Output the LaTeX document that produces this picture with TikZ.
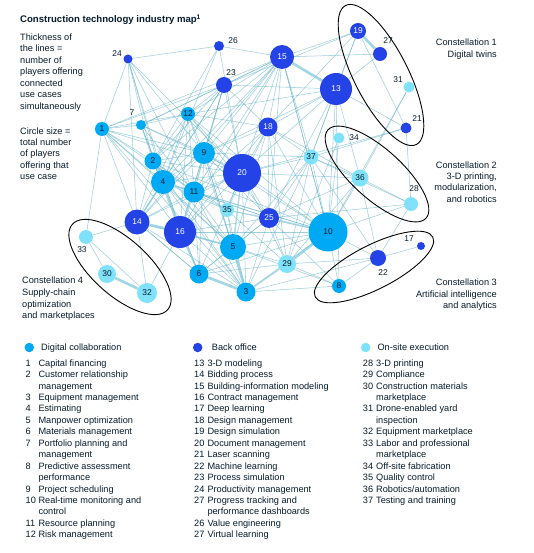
\documentclass[tikz,border=0pt]{standalone}
\usepackage{fontspec}
\setmainfont{Liberation Sans}
\pgfdeclarelayer{bg}
\pgfsetlayers{bg,main}
\definecolor{navy}{HTML}{051C2C}
\definecolor{dcol}{HTML}{00A9F4}
\definecolor{bcol}{HTML}{2443E6}
\definecolor{ocol}{HTML}{80E1FA}
\definecolor{lcol}{RGB}{95,175,198}
\definecolor{tcol}{RGB}{140,205,222}
\tikzset{
  nd/.style={circle, inner sep=0pt, font=\fontsize{8.4}{8.4}\selectfont},
  dc/.style={nd, fill=dcol, text=navy},
  bo/.style={nd, fill=bcol, text=white},
  os/.style={nd, fill=ocol, text=navy},
  lbl/.style={inner sep=0pt, text=navy, font=\fontsize{8.4}{8.4}\selectfont},
  txt/.style={inner sep=0pt, anchor=base west, text=navy, font=\fontsize{9.2}{10}\selectfont},
  rtxt/.style={txt, anchor=base east},
  lnk/.style={draw=lcol, line width=0.55pt, opacity=0.6},
  mlnk/.style={draw=tcol, line width=1.4pt, opacity=0.75},
  tlnk/.style={draw=tcol, line width=2.7pt, opacity=0.8},
  constel/.style={draw=black, line width=0.9pt},
}
\begin{document}
\begin{tikzpicture}[x=1pt,y=-1pt]
\useasboundingbox (0,0) rectangle (533,553);

% ---------- nodes ----------
\node[dc, minimum size=14pt] (n1) at (102,129) {1};
\node[dc, minimum size=17pt] (n2) at (153,161) {2};
\node[dc, minimum size=19pt] (n3) at (246,292) {3};
\node[dc, minimum size=24pt] (n4) at (163,182) {4};
\node[dc, minimum size=26pt] (n5) at (233,247) {5};
\node[dc, minimum size=19pt] (n6) at (199,274) {6};
\node[dc, minimum size=10pt] (n7) at (141,125) {};
\node[dc, minimum size=14pt] (n8) at (339,286) {8};
\node[dc, minimum size=22pt] (n9) at (204,153) {9};
\node[dc, minimum size=39pt] (n10) at (328,232) {10};
\node[dc, minimum size=21pt] (n11) at (194,192) {11};
\node[dc, minimum size=14pt] (n12) at (188,114) {12};
\node[bo, minimum size=32pt] (n13) at (336,89) {13};
\node[bo, minimum size=25pt] (n14) at (137,222) {14};
\node[bo, minimum size=24pt] (n15) at (282,57) {15};
\node[bo, minimum size=32pt] (n16) at (180,232) {16};
\node[bo, minimum size=8pt] (n17) at (421,246) {};
\node[bo, minimum size=19pt] (n18) at (268,127) {18};
\node[bo, minimum size=16pt] (n19) at (358,31) {19};
\node[bo, minimum size=38pt] (n20) at (242,173) {20};
\node[bo, minimum size=11pt] (n21) at (406,128) {};
\node[bo, minimum size=16pt] (n22) at (378,258) {};
\node[bo, minimum size=16pt] (n23) at (224,85) {};
\node[bo, minimum size=9pt] (n24) at (128,59) {};
\node[bo, minimum size=20pt] (n25) at (269,218) {25};
\node[bo, minimum size=10pt] (n26) at (219,46) {};
\node[bo, minimum size=14pt] (n27) at (380,54) {};
\node[os, minimum size=14pt] (n28) at (411,204) {};
\node[os, minimum size=18pt] (n29) at (287,264) {29};
\node[os, minimum size=18pt] (n30) at (107,274) {30};
\node[os, minimum size=11pt] (n31) at (409,87) {};
\node[os, minimum size=20pt] (n32) at (147,293) {32};
\node[os, minimum size=14pt] (n33) at (86,237) {};
\node[os, minimum size=11pt] (n34) at (339,138) {};
\node[os, minimum size=14pt] (n35) at (227,210) {35};
\node[os, minimum size=17pt] (n36) at (360,178) {36};
\node[os, minimum size=15pt] (n37) at (311,157) {37};

% external labels
\node[lbl] (l7) at (132,113) {7};
\node[lbl] (l17) at (409,239) {17};
\node[lbl] (l21) at (417,119) {21};
\node[lbl] (l22) at (383,273) {22};
\node[lbl] (l23) at (231,73) {23};
\node[lbl] (l24) at (117,54) {24};
\node[lbl] (l26) at (233,41) {26};
\node[lbl] (l27) at (388,41) {27};
\node[lbl] (l28) at (414,189) {28};
\node[lbl] (l31) at (398,80) {31};
\node[lbl] (l33) at (82,250) {33};
\node[lbl] (l34) at (354,138) {34};

% ---------- connectors ----------
\begin{pgfonlayer}{bg}
\foreach \a/\b in {1/7,1/12,1/2,1/4,1/14,1/11,1/9,1/16,1/24,1/3,1/5,1/20,1/23,
 2/4,2/9,2/11,2/12,2/14,2/16,2/20,2/5,2/3,2/6,2/7,2/24,2/26,2/15,2/23,2/10,2/35,
 3/16,3/10,3/8,3/20,3/11,3/14,3/4,3/25,3/22,3/35,3/9,3/37,
 4/9,4/12,4/14,4/20,4/5,4/6,4/7,4/15,4/23,4/24,4/26,4/10,4/25,4/35,
 5/6,5/9,5/10,5/11,5/16,5/25,5/29,5/35,5/37,5/14,5/12,5/18,5/8,
 6/11,6/14,6/20,6/9,6/25,6/10,6/29,
 7/12,7/4,7/11,7/23,7/15,7/9,7/20,
 8/10,8/22,8/29,8/25,8/13,
 9/11,9/12,9/16,9/18,9/23,9/15,9/25,9/10,9/37,9/35,9/14,9/20,
 10/13,10/15,10/18,10/20,10/22,10/36,10/28,10/31,10/37,10/11,10/16,10/35,10/12,10/34,
 11/12,11/20,11/14,11/23,11/15,11/18,11/25,11/35,
 12/23,12/15,12/20,12/16,12/18,12/25,12/14,
 13/19,13/21,13/18,13/20,13/37,13/36,13/25,13/9,13/12,13/23,13/27,
 14/20,14/23,14/15,14/33,14/32,14/24,14/6,
 15/19,15/27,15/18,15/20,15/23,15/26,15/25,15/37,15/16,15/1,15/10,
 16/20,16/23,16/25,16/32,16/18,
 17/22,
 18/20,18/37,18/19,18/25,18/29,18/23,18/35,18/36,
 19/21,19/37,19/23,
 20/25,20/37,20/29,20/35,20/36,20/23,20/26,20/24,20/21,
 21/28,21/37,
 22/36,22/37,22/29,22/28,
 24/26,24/9,24/11,24/16,
 25/37,25/29,25/28,25/36,25/35,
 28/36,28/37,29/37,29/35,29/36,
 30/33,32/33,31/36,34/29,36/37,33/1}
  \draw[lnk] (n\a) -- (n\b);
\foreach \a/\b in {4/11,4/16,11/16,16/6,3/29,16/5,20/5,25/10,14/4}
  \draw[mlnk] (n\a) -- (n\b);
\foreach \a/\b in {13/15,19/27,30/32,14/16,3/6,3/5,10/29}
  \draw[tlnk] (n\a) -- (n\b);
\end{pgfonlayer}

% ---------- constellations ----------
\draw[constel, shift={(381,75)}, rotate=-63] (0,0) ellipse [x radius=78pt, y radius=27pt];
\draw[constel, shift={(377,174)}, rotate=-42] (0,0) ellipse [x radius=66pt, y radius=25pt];
\draw[constel, shift={(374,267)}, rotate=27] (0,0) ellipse [x radius=66pt, y radius=22pt];
\draw[constel, shift={(120,267)}, rotate=-42] (0,0) ellipse [x radius=64pt, y radius=28pt];

\node[rtxt] (c1a) at (497,45.9) {Constellation 1};
\node[rtxt] (c1b) at (497,57.5) {Digital twins};
\foreach \t [count=\i] in {Constellation 2, {3-D printing,}, {modularization,}, and robotics}
  \node[rtxt] (c2\i) at (497,168.2+11.4*\i-11.4) {\t};
\foreach \t [count=\i] in {Constellation 3, Artificial intelligence, and analytics}
  \node[rtxt] (c3\i) at (497,285.9+11.5*\i-11.5) {\t};
\foreach \t [count=\i] in {Constellation 4, Supply-chain, optimization, and marketplaces}
  \node[txt] (c4\i) at (22,283.2+11.9*\i-11.9) {\t};

% ---------- title and side notes ----------
\node[txt, font=\bfseries\fontsize{9.6}{10}\selectfont] (title) at (20,22.8) {Construction technology industry map\textsuperscript{1}};
\foreach \t [count=\i] in {Thickness of, the lines =, number of, players offering, connected, use cases, simultaneously}
  \node[txt] (th\i) at (20,40.1+11.55*\i-11.55) {\t};
\foreach \t [count=\i] in {Circle size =, total number, of players, offering that, use case}
  \node[txt] (cs\i) at (20,134.1+11.35*\i-11.35) {\t};

% ---------- legend ----------
\node[circle, fill=dcol, minimum size=9.5pt, inner sep=0pt] (b1) at (29.3,347.5) {};
\node[txt] (h1) at (41,350.7) {Digital collaboration};
\node[circle, fill=bcol, minimum size=9.5pt, inner sep=0pt] (b2) at (197.7,347.5) {};
\node[txt] (h2) at (211.7,350.7) {Back office};
\node[circle, fill=ocol, minimum size=9.5pt, inner sep=0pt] (b3) at (365.7,347.5) {};
\node[txt] (h3) at (377.3,350.7) {On-site execution};

\foreach \n/\t [count=\i] in {1/Capital financing, 2/Customer relationship, /management, 3/Equipment management, 4/Estimating, 5/Manpower optimization, 6/Materials management, 7/Portfolio planning and, /management, 8/Predictive assessment, /performance, 9/Project scheduling, 10/Real-time monitoring and, /control, 11/Resource planning, 12/Risk management}
{
  \node[txt] (na\i) at (25.5,366.1+11.45*\i-11.45) {\n};
  \node[txt] (ta\i) at (38.3,366.1+11.45*\i-11.45) {\t};
}
\foreach \n/\t [count=\i] in {13/3-D modeling, 14/Bidding process, 15/Building-information modeling, 16/Contract management, 17/Deep learning, 18/Design management, 19/Design simulation, 20/Document management, 21/Laser scanning, 22/Machine learning, 23/Process simulation, 24/Productivity management, 27/Progress tracking and, /performance dashboards, 26/Value engineering, 27/Virtual learning}
{
  \node[txt] (nb\i) at (194,366.1+11.45*\i-11.45) {\n};
  \node[txt] (tb\i) at (207.3,366.1+11.45*\i-11.45) {\t};
}
\foreach \n/\t [count=\i] in {28/3-D printing, 29/Compliance, 30/Construction materials, /marketplace, 31/Drone-enabled yard, /inspection, 32/Equipment marketplace, 33/Labor and professional, /marketplace, 34/Off-site fabrication, 35/Quality control, 36/{Robotics/automation}, 37/Testing and training}
{
  \node[txt] (nc\i) at (362.7,366.1+11.45*\i-11.45) {\n};
  \node[txt] (tc\i) at (376,366.1+11.45*\i-11.45) {\t};
}
\end{tikzpicture}
\end{document}
